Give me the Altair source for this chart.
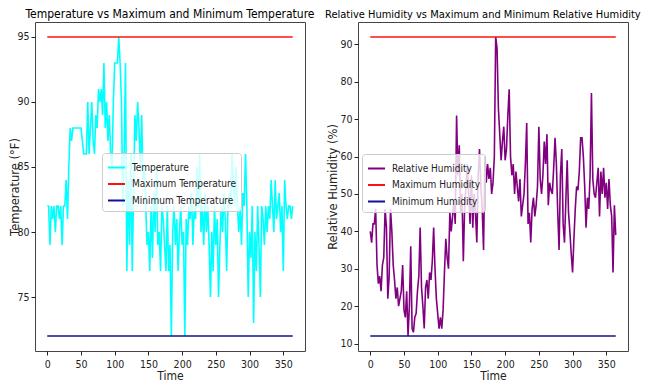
import altair as alt
import pandas as pd

# Time axis (every second day of the year)
days = list(range(0, 365, 2))

temperature = [
    82, 82, 79, 82, 81, 82, 80, 82, 82, 81,
    82, 79, 82, 82, 84, 81, 85, 88, 87, 88,
    88, 88, 88, 88, 88, 88, 87, 86, 86, 86,
    90, 86, 88, 90, 87, 86, 89, 88, 91, 90,
    91, 89, 93, 88, 90, 87, 89, 86, 85, 90,
    93, 93, 93, 95, 93, 90, 82, 86, 93, 77,
    84, 79, 86, 77, 83, 89, 87, 90, 88, 85,
    89, 84, 85, 82, 79, 80, 77, 82, 78, 83,
    80, 85, 79, 80, 77, 82, 81, 79, 77, 82,
    77, 79, 72, 80, 82, 79, 81, 77, 80, 82,
    79, 80, 72, 81, 79, 82, 81, 83, 79, 82,
    81, 85, 82, 86, 80, 82, 79, 83, 80, 82,
    79, 75, 80, 77, 82, 79, 81, 75, 79, 82,
    80, 83, 81, 77, 82, 83, 82, 86, 84, 82,
    85, 82, 80, 82, 79, 83, 82, 86, 82, 75,
    80, 78, 82, 73, 80, 77, 82, 79, 75, 82,
    81, 79, 82, 80, 82, 81, 84, 82, 80, 84,
    81, 82, 83, 80, 82, 77, 84, 82, 81, 82,
    82, 81, 82,
]

humidity = [
    40, 37, 42, 42, 46, 31, 26, 28, 24, 31,
    33, 46, 41, 22, 28, 46, 40, 31, 27, 22,
    25, 20, 22, 24, 31, 19, 17, 24, 12, 20,
    36, 14, 13, 17, 18, 24, 28, 41, 25, 20,
    14, 25, 27, 22, 29, 27, 32, 41, 30, 22,
    18, 14, 17, 14, 19, 29, 38, 33, 30, 45,
    40, 44, 48, 42, 71, 55, 63, 45, 50, 32,
    47, 52, 58, 50, 42, 55, 41, 50, 45, 37,
    55, 62, 52, 46, 35, 60, 53, 58, 54, 57,
    50, 53, 60, 92, 89, 73, 66, 59, 64, 68,
    59, 62, 71, 78, 60, 55, 58, 50, 56, 52,
    48, 54, 44, 47, 50, 58, 69, 42, 45, 37,
    46, 49, 44, 47, 52, 68, 54, 50, 55, 64,
    58, 66, 47, 53, 51, 50, 57, 65, 58, 45,
    35, 55, 62, 42, 37, 48, 59, 45, 40, 34,
    29, 38, 46, 52, 51, 56, 65, 65, 60, 52,
    41, 49, 46, 55, 77, 54, 50, 49, 53, 57,
    44, 56, 50, 57, 49, 53, 46, 54, 47, 44,
    29, 47, 39,
]

temp_names = ["Temperature", "Maximum Temperature", "Minimum Temperature"]
hum_names = ["Relative Humidity", "Maximum Humidity", "Minimum Humidity"]
temp_colors = ["#00ffff", "#ff1010", "#10109a"]
hum_colors = ["#800080", "#ff1010", "#10109a"]

x_ticks = [0, 50, 100, 150, 200, 250, 300, 350]
temp_ticks = [75, 80, 85, 90, 95]
hum_ticks = [10, 20, 30, 40, 50, 60, 70, 80, 90]

NARROW = "DejaVu Sans Condensed, DejaVu Sans, sans-serif"
PLAIN = "DejaVu Sans, sans-serif"
W, H = 270, 329


def build(values, names):
    rows = [{"Time": d, "value": v, "series": names[0], "k": 0} for d, v in zip(days, values)]
    hi, lo = max(values), min(values)
    for d in (days[0], days[-1]):
        rows.append({"Time": d, "value": hi, "series": names[1], "k": 1})
    for d in (days[0], days[-1]):
        rows.append({"Time": d, "value": lo, "series": names[2], "k": 2})
    return pd.DataFrame(rows)


def panel(df, names, colors, title, ytitle, ydomain, yticks, lx, ly, ytx,
          tx, talign, tsize):
    lines = alt.Chart(df).mark_line(strokeWidth=1.6).encode(
        x=alt.X("Time:Q",
                scale=alt.Scale(domain=[-18.2, 382.2], nice=False, zero=False),
                axis=alt.Axis(values=x_ticks, title="Time", titleFont=NARROW,
                              titleFontSize=12, labelPadding=4,
                              titleBaseline="alphabetic", titleY=28)),
        y=alt.Y("value:Q",
                scale=alt.Scale(domain=ydomain, nice=False, zero=False),
                axis=alt.Axis(values=yticks, title=ytitle, titleFont=PLAIN,
                              titleFontSize=11.5, titleX=ytx)),
        color=alt.Color("series:N",
                        scale=alt.Scale(domain=names, range=colors),
                        legend=alt.Legend(title=None, orient="none",
                                          legendX=lx, legendY=ly,
                                          symbolType="stroke", symbolSize=289,
                                          symbolStrokeWidth=2,
                                          labelFont=NARROW, labelFontSize=10,
                                          labelOffset=6,
                                          labelColor="#222222",
                                          fillColor="rgba(255,255,255,0.8)",
                                          strokeColor="#cccccc",
                                          padding=5, cornerRadius=3,
                                          rowPadding=1.5)),
        order=alt.Order("k:Q"),
    )
    head = alt.Chart(pd.DataFrame({"label": [title]})).mark_text(
        font=NARROW, fontSize=tsize, baseline="alphabetic", align=talign,
        color="#000000",
    ).encode(text="label:N", x=alt.value(tx), y=alt.value(-4.5))
    return alt.layer(lines, head).properties(width=W, height=H)


left = panel(build(temperature, temp_names), temp_names, temp_colors,
             "Temperature vs Maximum and Minimum Temperature",
             "Temperature (°F)", [70.85, 96.15], temp_ticks, 67, 131, -15,
             W / 2, "center", 12)
right = panel(build(humidity, hum_names), hum_names, hum_colors,
              "Relative Humidity vs Maximum and Minimum Relative Humidity",
              "Relative Humidity (%)", [8, 96], hum_ticks, 4, 132, -20,
              -33, "left", 11)

chart = alt.hconcat(left, right, spacing=53, bounds="flush").resolve_scale(
    color="independent").resolve_legend(color="independent").properties(
    autosize=alt.AutoSizeParams(type="none"),
    padding={"left": 27, "top": 14, "right": 616, "bottom": 358},
).configure_view(stroke="#444444", strokeWidth=1).configure_axis(
    domain=False, grid=False, ticks=True, tickColor="#222222", tickSize=4,
    labelFont=NARROW, labelFontSize=10.5, labelColor="#222222", labelPadding=2,
    titleFontWeight="normal", titleColor="#222222",
)

chart.save("out.html", embed_options={"renderer": "svg", "actions": False})
